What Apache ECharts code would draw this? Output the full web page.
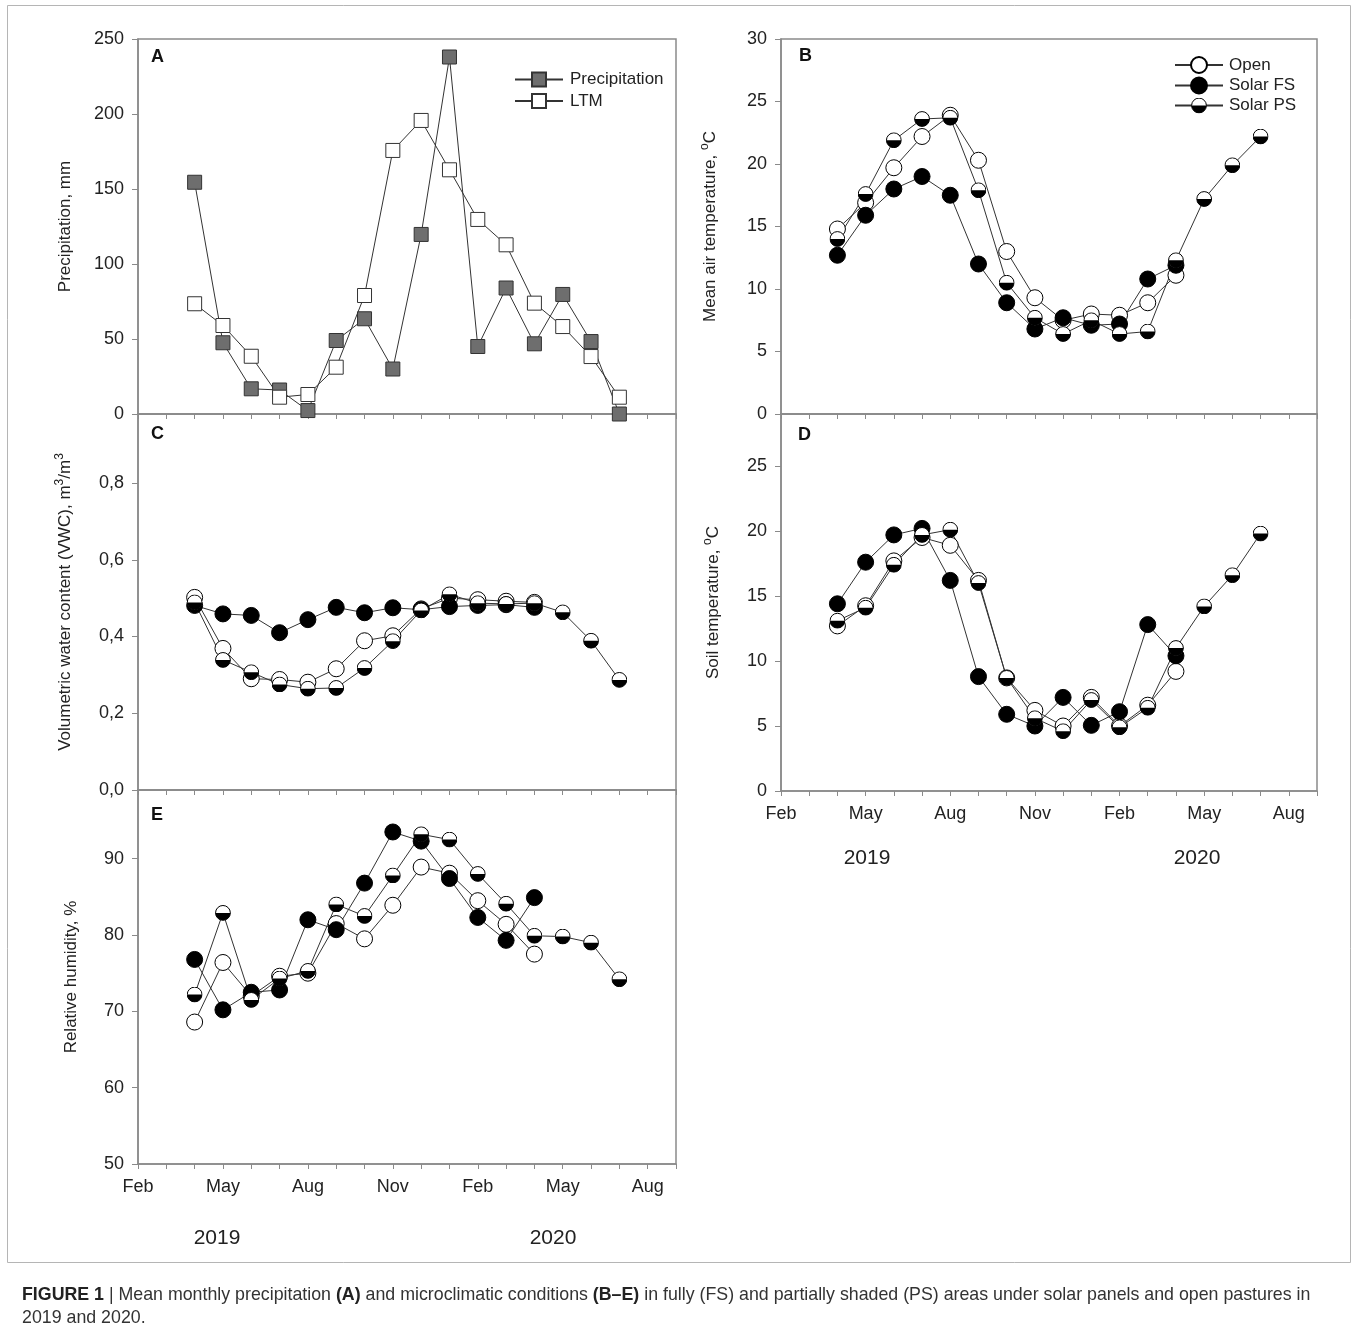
<!DOCTYPE html>
<html>
<head>
<meta charset="utf-8">
<script src="https://cdn.jsdelivr.net/npm/echarts@6/dist/echarts.min.js"></script>
<style>
  html, body { margin: 0; background: #fff; }
  #chart { width: 1358px; height: 1330px; }
</style>
</head>
<body>
<div id="chart"></div>
<script>
// month index counted from Feb 2019 (0) ... Sep 2020 (19)
const xTickLabels = ['Feb', '', '', 'May', '', '', 'Aug', '', '', 'Nov', '', '', 'Feb', '', '', 'May', '', '', 'Aug', ''];
// Apr 2019 ... Jul 2020
const months = [2, 3, 4, 5, 6, 7, 8, 9, 10, 11, 12, 13, 14, 15, 16, 17];

// A - precipitation, mm
const precip = [154.5, 47.5, 16.8, 16, 2.3, 49, 63.5, 30, 119.7, 238, 45, 84, 46.8, 79.7, 48.3, 0];
const ltm = [73.5, 59, 38.5, 11.2, 13, 31.2, 79, 175.7, 195.7, 162.8, 129.7, 112.8, 73.9, 58.3, 38.3, 11.2];

// B - mean air temperature
const airOpen = [14.8, 16.9, 19.7, 22.2, 23.9, 20.3, 13.0, 9.3, 7.5, 8.0, 7.9, 8.9, 11.1];
const airFS = [12.7, 15.9, 18.0, 19.0, 17.5, 12.0, 8.9, 6.8, 7.7, 7.1, 7.2, 10.8, 11.9];
const airPS = [14.0, 17.6, 21.9, 23.6, 23.7, 17.9, 10.5, 7.7, 6.4, 7.5, 6.4, 6.6, 12.3, 17.2, 19.9, 22.2];

// C - volumetric water content
const vwcOpen = [0.502, 0.369, 0.290, 0.288, 0.281, 0.316, 0.389, 0.402, 0.472, 0.500, 0.496, 0.492, 0.489];
const vwcFS = [0.481, 0.459, 0.455, 0.410, 0.444, 0.476, 0.462, 0.475, 0.470, 0.478, 0.481, 0.483, 0.476];
const vwcPS = [0.489, 0.339, 0.307, 0.275, 0.264, 0.266, 0.318, 0.388, 0.468, 0.510, 0.487, 0.485, 0.487, 0.463, 0.389, 0.287];

// D - soil temperature
const soilOpen = [12.7, 14.25, 17.7, 19.5, 18.9, 16.2, 8.7, 6.2, 5.0, 7.2, 5.0, 6.6, 9.2];
const soilFS = [14.4, 17.6, 19.7, 20.2, 16.2, 8.8, 5.9, 5.0, 7.2, 5.05, 6.1, 12.8, 10.4];
const soilPS = [13.1, 14.1, 17.4, 19.7, 20.1, 16.0, 8.7, 5.6, 4.6, 7.0, 4.9, 6.4, 11.0, 14.2, 16.6, 19.8];

// E - relative humidity
const rhOpen = [68.6, 76.4, 72.0, 74.6, 75.0, 81.5, 79.5, 83.9, 88.9, 88.1, 84.5, 81.4, 77.5];
const rhFS = [76.8, 70.2, 72.5, 72.8, 82.0, 80.7, 86.8, 93.5, 92.3, 87.4, 82.3, 79.3, 84.9];
const rhPS = [72.2, 82.9, 71.5, 74.3, 75.3, 84.0, 82.5, 87.8, 93.2, 92.5, 88.0, 84.1, 79.9, 79.8, 79.0, 74.2];

const FONT = '"Liberation Sans", Arial, sans-serif';
const AX = '#8a8a8a';
const TXT = '#222';

const psSvg = "<svg xmlns='http://www.w3.org/2000/svg' width='40' height='40' viewBox='0 0 40 40'>" +
  "<circle cx='20' cy='20' r='18.5' fill='#fff'/>" +
  "<path d='M1.5 20 A18.5 18.5 0 0 0 38.5 20 Z' fill='#000'/>" +
  "<circle cx='20' cy='20' r='18.5' fill='none' stroke='#000' stroke-width='2.5'/></svg>";
const PS_SYMBOL = 'image://data:image/svg+xml;charset=utf-8,' + encodeURIComponent(psSvg);

const grids = [
  { left: 138, top: 39, width: 538, height: 375 },   // A
  { left: 781, top: 39, width: 536, height: 375 },   // B
  { left: 138, top: 414, width: 538, height: 376 },  // C
  { left: 781, top: 414, width: 536, height: 377 },  // D
  { left: 138, top: 790, width: 538, height: 374 }   // E
].map(g => Object.assign({ show: true, borderColor: AX, borderWidth: 1.5, backgroundColor: 'transparent' }, g));

function xAx(i, labels) {
  return {
    type: 'value', gridIndex: i, min: 0, max: 19, interval: 1,
    axisLine: { show: true, onZero: false, lineStyle: { color: AX, width: 1.5 } },
    axisTick: { show: true, length: 5, lineStyle: { color: AX } },
    splitLine: { show: false },
    axisLabel: {
      show: labels, margin: 14, fontSize: 18, color: TXT, fontFamily: FONT,
      formatter: v => xTickLabels[v] || ''
    }
  };
}

const nameStyle = {
  fontSize: 17, color: TXT, fontFamily: FONT, lineHeight: 22,
  rich: { sup: { fontSize: 12, lineHeight: 12, verticalAlign: 'top', color: TXT, fontFamily: FONT } }
};

function yAx(i, min, max, interval, name, gap, fmt, showMax) {
  return {
    type: 'value', gridIndex: i, min, max, interval,
    name, nameLocation: 'middle', nameGap: gap, nameTextStyle: nameStyle,
    axisLine: { show: true, onZero: false, lineStyle: { color: AX, width: 1.5 } },
    axisTick: { show: true, length: 6, lineStyle: { color: AX } },
    splitLine: { show: false },
    axisLabel: {
      margin: 14, fontSize: 18, color: TXT, fontFamily: FONT,
      showMaxLabel: showMax, formatter: fmt
    }
  };
}

const kinds = {
  open: { symbol: 'circle', itemStyle: { color: '#fff', borderColor: '#000', borderWidth: 1 } },
  fs: { symbol: 'circle', itemStyle: { color: '#000', borderColor: '#000', borderWidth: 1 } },
  ps: { symbol: PS_SYMBOL, itemStyle: { color: '#000' } },
  precip: { symbol: 'rect', itemStyle: { color: '#6e6e6e', borderColor: '#333', borderWidth: 1 } },
  ltm: { symbol: 'rect', itemStyle: { color: '#fff', borderColor: '#333', borderWidth: 1 } }
};

function mk(name, i, ys, kind, size) {
  return Object.assign({
    name, type: 'line', xAxisIndex: i, yAxisIndex: i,
    data: ys.map((v, k) => [months[k], v]),
    symbolSize: size, showAllSymbol: true,
    lineStyle: { color: '#333', width: 1 },
    emphasis: { disabled: true }, silent: true, animation: false
  }, kinds[kind]);
}

const legendText = { fontSize: 17, color: TXT, fontFamily: FONT };

const option = {
  backgroundColor: '#fff',
  animation: false,
  grid: grids,
  xAxis: [xAx(0, false), xAx(1, false), xAx(2, false), xAx(3, true), xAx(4, true)],
  yAxis: [
    yAx(0, 0, 250, 50, 'Precipitation, mm', 62, v => v, true),
    yAx(1, 0, 30, 5, 'Mean air temperature, {sup|o}C', 60, v => v, true),
    yAx(2, 0, 0.98, 0.2, 'Volumetric water content (VWC), m{sup|3}/m{sup|3}', 62,
      v => v.toFixed(1).replace('.', ','), false),
    yAx(3, 0, 29, 5, 'Soil temperature, {sup|o}C', 57, v => v, false),
    yAx(4, 50, 99, 10, 'Relative humidity, %', 56, v => v, false)
  ],
  legend: [
    {
      data: ['Precipitation', 'LTM'], orient: 'vertical', left: 509, top: 66,
      itemWidth: 48, itemHeight: 17.5, itemGap: 4.5, selectedMode: false,
      textStyle: Object.assign({ padding: [0, 0, 0, 2] }, legendText)
    },
    {
      data: ['Open', 'Solar FS', 'Solar PS'], orient: 'vertical', left: 1169, top: 51,
      itemWidth: 48, itemHeight: 20, itemGap: 2.5, selectedMode: false,
      textStyle: Object.assign({ padding: [0, 0, 0, 1] }, legendText)
    }
  ],
  series: [
    mk('Precipitation', 0, precip, 'precip', 14),
    mk('LTM', 0, ltm, 'ltm', 14),
    mk('Open', 1, airOpen, 'open', 16),
    mk('Solar FS', 1, airFS, 'fs', 16),
    mk('Solar PS', 1, airPS, 'ps', 16),
    mk('Open', 2, vwcOpen, 'open', 16),
    mk('Solar FS', 2, vwcFS, 'fs', 16),
    mk('Solar PS', 2, vwcPS, 'ps', 16),
    mk('Open', 3, soilOpen, 'open', 16),
    mk('Solar FS', 3, soilFS, 'fs', 16),
    mk('Solar PS', 3, soilPS, 'ps', 16),
    mk('Open', 4, rhOpen, 'open', 16),
    mk('Solar FS', 4, rhFS, 'fs', 16),
    mk('Solar PS', 4, rhPS, 'ps', 16)
  ],
  graphic: [
    { type: 'rect', shape: { x: 7.5, y: 5.5, width: 1343, height: 1257 },
      style: { fill: 'none', stroke: '#b5b5b5', lineWidth: 1 }, silent: true },
    ...[['A', 151, 57], ['B', 799, 56], ['C', 151, 434], ['D', 798, 435], ['E', 151, 815]].map(([t, x, y]) => ({
      type: 'text', x, y, silent: true,
      style: { text: t, font: 'bold 18px ' + FONT, fill: '#111', verticalAlign: 'middle' }
    })),
    ...[['2019', 217, 1238], ['2020', 553, 1238], ['2019', 867, 858], ['2020', 1197, 858]].map(([t, x, y]) => ({
      type: 'text', x, y, silent: true,
      style: { text: t, font: '21px ' + FONT, fill: TXT, align: 'center', verticalAlign: 'middle' }
    })),
    {
      type: 'text', x: 22, y: 1284, silent: true,
      style: {
        text: '{b|FIGURE 1} | Mean monthly precipitation {b|(A)} and microclimatic conditions {b|(B–E)} in fully (FS) and partially shaded (PS) areas under solar panels and open pastures in\n2019 and 2020.',
        font: '17.8px ' + FONT, fill: '#333', lineHeight: 23, verticalAlign: 'top',
        rich: { b: { fontWeight: 'bold', fontSize: 17.8, fontFamily: FONT, fill: '#222' } }
      }
    }
  ]
};

const chart = echarts.init(document.getElementById('chart'), null, { renderer: 'canvas' });
chart.setOption(option);
</script>
</body>
</html>
